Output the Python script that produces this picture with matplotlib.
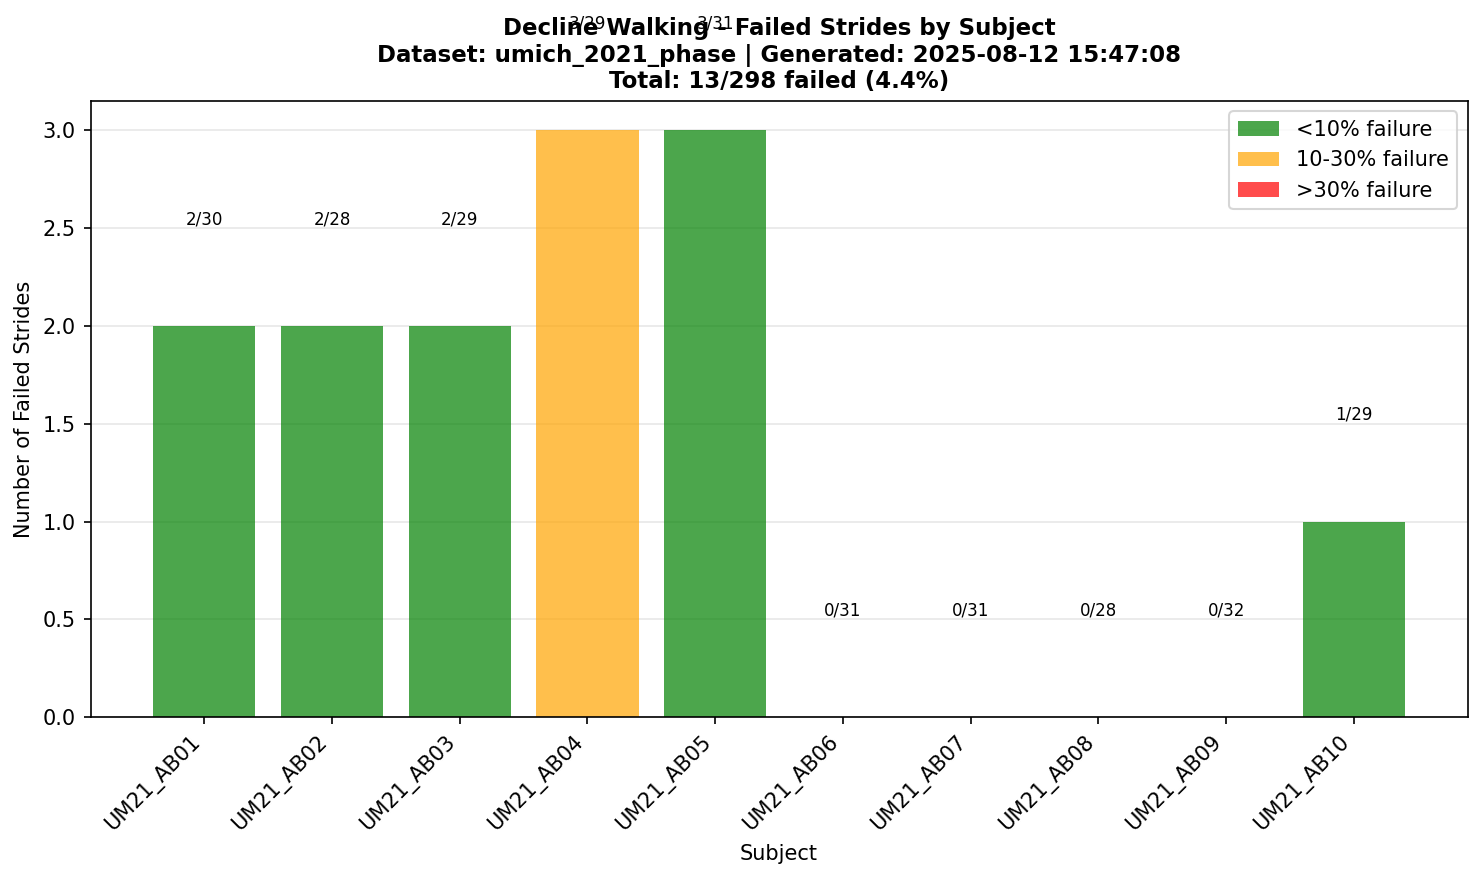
import matplotlib
matplotlib.use("Agg")
import matplotlib.pyplot as plt
from matplotlib.patches import Patch

subjects = ["UM21_AB01","UM21_AB02","UM21_AB03","UM21_AB04","UM21_AB05",
            "UM21_AB06","UM21_AB07","UM21_AB08","UM21_AB09","UM21_AB10"]
failed = [2,2,2,3,3,0,0,0,0,1]
total = [30,28,29,29,31,31,31,28,32,29]

def color(f, t):
    r = f / t
    if r < 0.10: return "green"
    if r <= 0.30: return "orange"
    return "red"

fig = plt.figure(figsize=(1484/150, 878/150), dpi=150)
ax = fig.add_axes([0.061, 0.183, 0.928, 0.702])
x = range(len(subjects))
ax.bar(x, failed, color=[color(f, t) for f, t in zip(failed, total)], alpha=0.7)
for i, (f, t) in enumerate(zip(failed, total)):
    ax.text(i, f + 0.5, f"{f}/{t}", ha="center", va="bottom", fontsize=8)
ax.set_xticks(list(x))
ax.set_xticklabels(subjects, rotation=45, ha="right")
ax.set_ylim(0, 3.15)
ax.set_xlabel("Subject")
ax.set_ylabel("Number of Failed Strides")
ax.grid(axis="y", alpha=0.3)
ax.set_axisbelow(True)
ax.set_title("Decline Walking - Failed Strides by Subject\nDataset: umich_2021_phase | Generated: 2025-08-12 15:47:08\n"
             f"Total: {sum(failed)}/{sum(total)} failed ({100*sum(failed)/sum(total):.1f}%)",
             fontweight="bold", fontsize=11)
handles = [Patch(facecolor="green", alpha=0.7, label="<10% failure"),
           Patch(facecolor="orange", alpha=0.7, label="10-30% failure"),
           Patch(facecolor="red", alpha=0.7, label=">30% failure")]
ax.legend(handles=handles, loc="upper right")
fig.savefig("out.png", dpi=150)
